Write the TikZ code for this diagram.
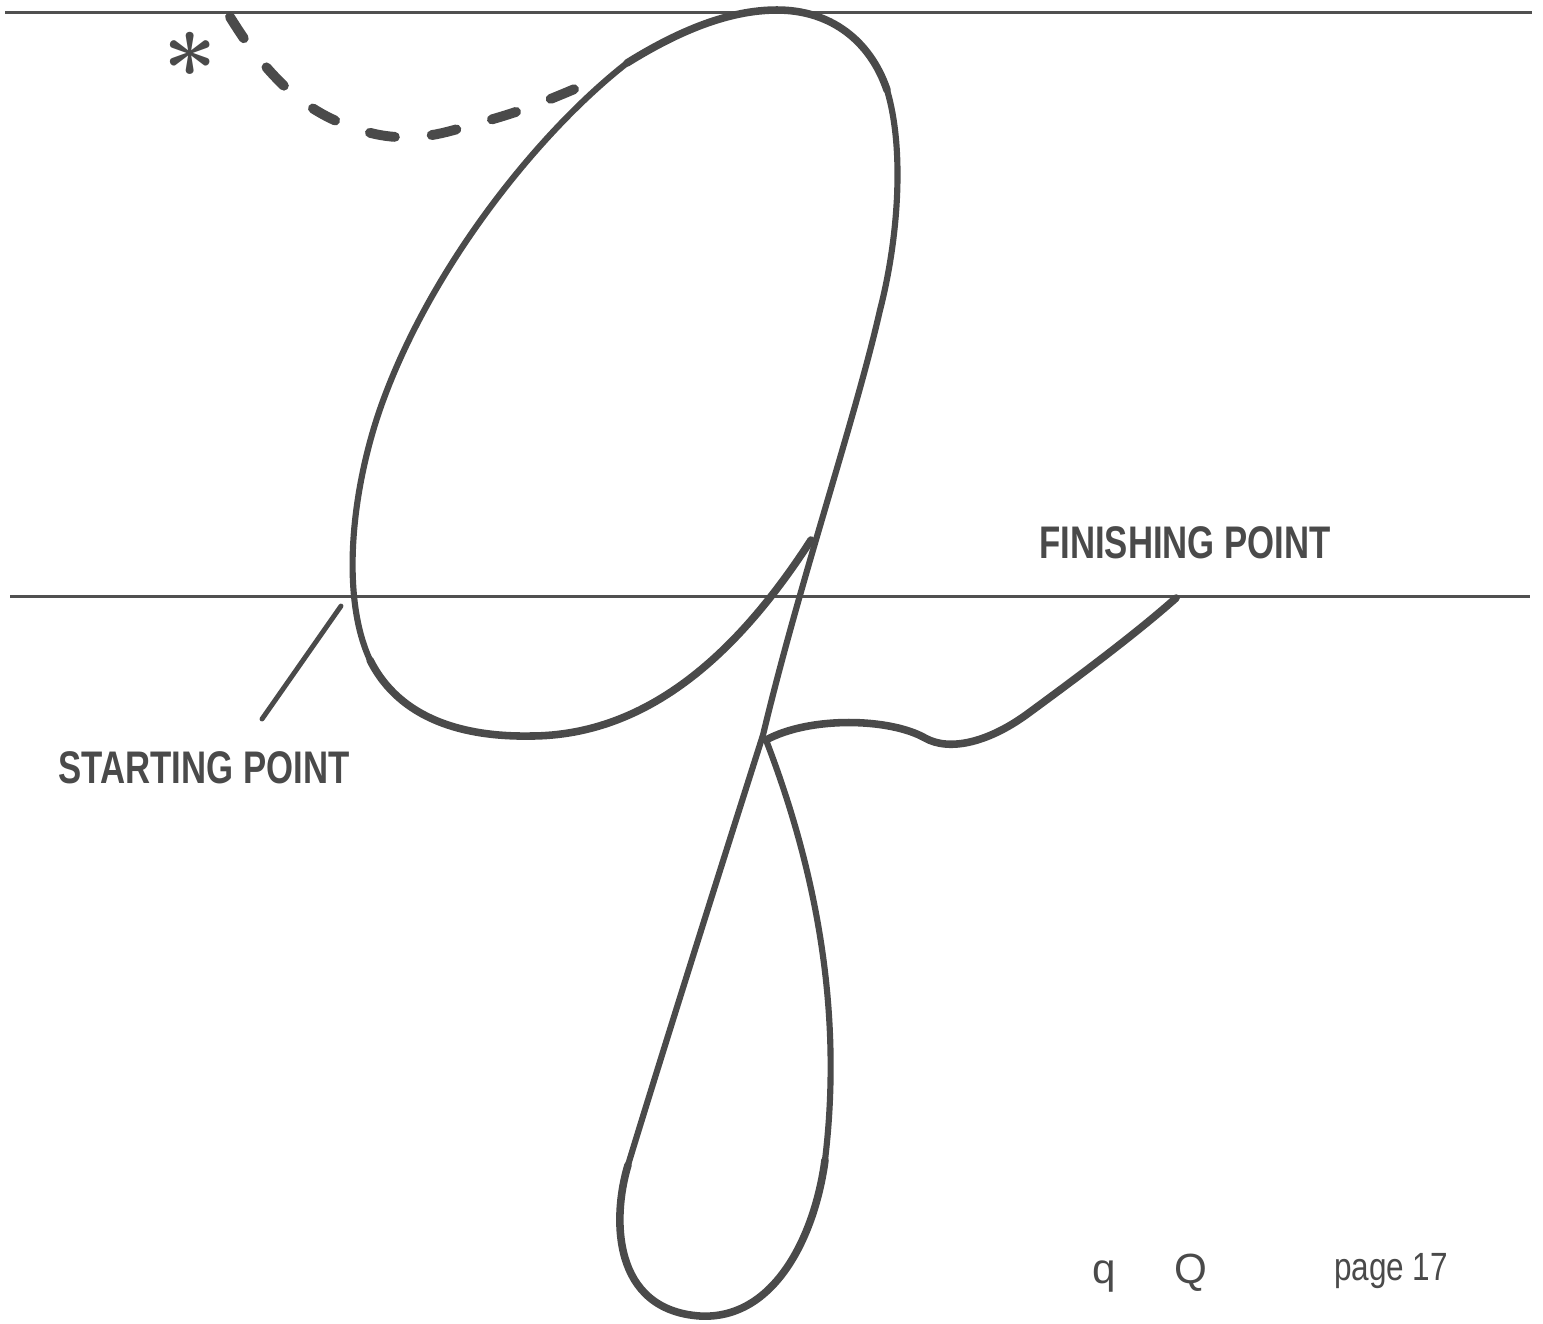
\documentclass[tikz,border=0pt]{standalone}
\usepackage{fontspec}
\usepackage{xcolor}
\usepackage{tikz}
\usetikzlibrary{positioning}

\newfontfamily\guidefont[FakeStretch=0.76]{Liberation Sans}
\newfontfamily\pagefont[FakeStretch=0.8]{Liberation Sans}
\newfontfamily\letterfont{Liberation Sans}

\definecolor{ink}{HTML}{4A4A4A}
\definecolor{rule}{HTML}{505050}

\begin{document}
\begin{tikzpicture}[
    x=0.01cm, y=-0.01cm,
    guide/.style={draw=rule, line width=0.85pt},
    stroke/.style={draw=ink, line width=1.75pt, line cap=round, line join=round},
    heavy/.style={draw=ink, line width=2.15pt, line cap=round, line join=round},
    lead/.style={draw=ink, line width=2.8pt, line cap=round, dash pattern=on 7.2pt off 10.5pt},
    tag/.style={text=ink, inner sep=0pt, font=\guidefont\bfseries\fontsize{13}{15}\selectfont},
    foot/.style={text=ink, inner sep=0pt, anchor=base}
]

\fill[white] (0,0) rectangle (1543,1323);
\useasboundingbox (0,0) rectangle (1543,1323);

\draw[guide] (5,12) -- (1532,12);
\draw[guide] (10,596) -- (1530,596);

\draw[lead] plot[smooth, tension=0.6] coordinates {(230,17) (256,55) (292,93) (332,119) (380,135) (425,136) (472,125) (530,107) (598,79)};

\draw[heavy] (627,63) .. controls (680,30) and (730,10) .. (777,10)
    .. controls (830,10) and (870,40) .. (887,90);
\draw[stroke] (887,90) .. controls (905,150) and (898,240) .. (880,310)
    .. controls (855,420) and (800,580) .. (763,735)
    .. controls (720,870) and (660,1060) .. (628,1165);
\draw[heavy] (628,1165) .. controls (612,1218) and (612,1310) .. (700,1316)
    .. controls (775,1320) and (815,1235) .. (825,1160);
\draw[stroke] (825,1160) .. controls (842,1020) and (820,880) .. (766,740);
\draw[heavy] (766,740) .. controls (810,716) and (890,718) .. (925,738)
    .. controls (950,752) and (990,742) .. (1030,712)
    .. controls (1090,668) and (1140,630) .. (1176,598);

\draw[stroke] (627,63) .. controls (535,135) and (425,275) .. (378,415)
    .. controls (350,500) and (342,600) .. (370,660);
\draw[heavy] (370,660) .. controls (400,720) and (465,737) .. (530,736)
    .. controls (650,736) and (740,650) .. (811,540);

\node[text=ink, inner sep=0pt, font=\bfseries\fontsize{27}{27}\selectfont] (star) at (190,68) {*};

\node[tag] (finish) at (1185,543) {FINISHING POINT};
\node[tag] (start) at (204,768) {STARTING POINT};

\coordinate (startpt) at (341,606);
\coordinate (startptr) at (262,719);
\draw[ink, line width=1.4pt, line cap=round] (startptr) -- (startpt);

\node[foot, font=\letterfont\fontsize{12}{14}\selectfont] (lowerq) at (1104,1283) {q};
\node[foot, font=\letterfont\fontsize{12}{14}\selectfont] (upperq) at (1191,1283) {Q};
\node[foot, font=\pagefont\fontsize{11.2}{13}\selectfont] (pagenum) at (1391,1280) {page 17};

\end{tikzpicture}
\end{document}
